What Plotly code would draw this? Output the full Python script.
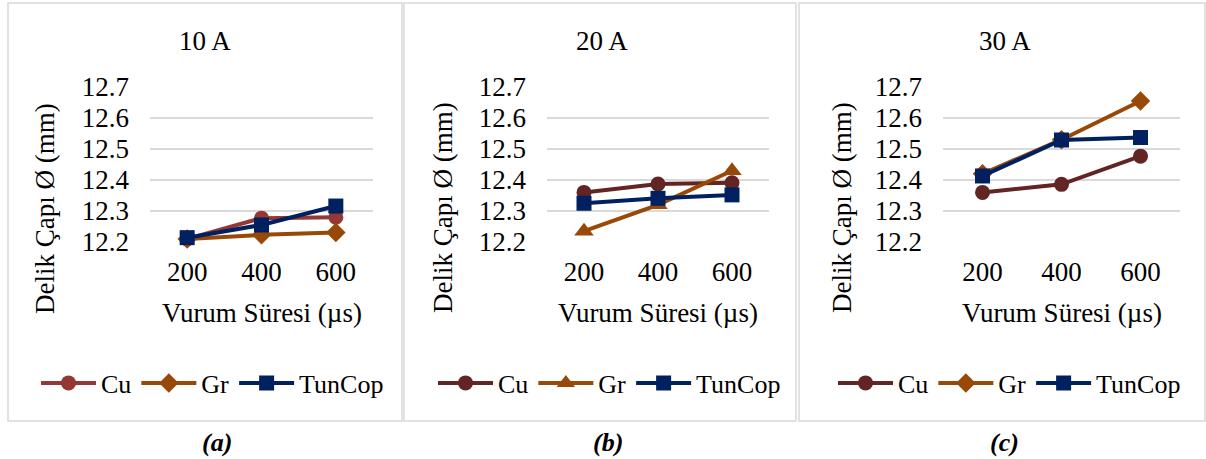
import plotly.graph_objects as go

W, H = 1206, 459

pulse = ["200", "400", "600"]
panels = ["10 A", "20 A", "30 A"]
captions = ["(a)", "(b)", "(c)"]
y_ticks = [12.2, 12.3, 12.4, 12.5, 12.6, 12.7]

# values (mm)
cu_10 = [12.21, 12.277, 12.28]
gr_10 = [12.21, 12.223, 12.231]
tc_10 = [12.214, 12.255, 12.316]

cu_20 = [12.36, 12.387, 12.391]
gr_20 = [12.235, 12.32, 12.43]
tc_20 = [12.325, 12.341, 12.352]

cu_30 = [12.36, 12.386, 12.477]
gr_30 = [12.42, 12.53, 12.655]
tc_30 = [12.413, 12.529, 12.537]

data = [(cu_10, gr_10, tc_10), (cu_20, gr_20, tc_20), (cu_30, gr_30, tc_30)]
cu_colors = ["#953735", "#632523", "#632523"]
gr_color = "#984807"
tc_color = "#002060"
gr_symbols = ["diamond", "triangle-up", "diamond"]
gr_sizes = [15, 17, 15]

FONT = "Liberation Serif"
FS = 27

# pixel layout helpers
plot_x = [(150, 373), (547, 769), (943, 1180)]
plot_top, plot_bot = 87, 242
boxes = [(8, 402), (404, 796), (799, 1205)]
title_x = [205, 602, 1005]
ytitle_x = [45, 443, 842]
xtitle_x = [262, 658, 1062]
legend_x = [36, 433, 833]
caption_x = [217, 608, 1004]

def px(x):
    return x / W

def py(y):
    return 1 - y / H

fig = go.Figure()
for i in range(3):
    cu, gr, tc = data[i]
    xa = "x" if i == 0 else f"x{i+1}"
    ya = "y" if i == 0 else f"y{i+1}"
    lg = "legend" if i == 0 else f"legend{i+1}"
    fig.add_trace(go.Scatter(x=pulse, y=cu, name="Cu", mode="lines+markers",
                             line=dict(color=cu_colors[i], width=4),
                             marker=dict(symbol="circle", size=15, color=cu_colors[i]),
                             xaxis=xa, yaxis=ya, legend=lg, cliponaxis=False))
    fig.add_trace(go.Scatter(x=pulse, y=gr, name="Gr", mode="lines+markers",
                             line=dict(color=gr_color, width=4),
                             marker=dict(symbol=gr_symbols[i], size=gr_sizes[i], color=gr_color),
                             xaxis=xa, yaxis=ya, legend=lg, cliponaxis=False))
    fig.add_trace(go.Scatter(x=pulse, y=tc, name="TunCop", mode="lines+markers",
                             line=dict(color=tc_color, width=4),
                             marker=dict(symbol="square", size=15, color=tc_color),
                             xaxis=xa, yaxis=ya, legend=lg, cliponaxis=False))

layout = dict(
    width=W, height=H,
    margin=dict(l=0, r=0, t=0, b=0, autoexpand=False),
    paper_bgcolor="white", plot_bgcolor="white",
    font=dict(family=FONT, size=FS, color="black"),
    showlegend=True,
)

for i in range(3):
    sfx = "" if i == 0 else str(i + 1)
    x0, x1 = plot_x[i]
    layout["xaxis" + sfx] = dict(
        domain=[px(x0), px(x1)], anchor="y" + sfx, type="category",
        range=[-0.5, 2.5], showgrid=False, showline=False, zeroline=False,
        ticks="", tickfont=dict(family=FONT, size=FS), ticklabelstandoff=11,
        automargin=False,
    )
    layout["yaxis" + sfx] = dict(
        domain=[py(plot_bot), py(plot_top)], anchor="x" + sfx,
        range=[12.2, 12.7], tickvals=y_ticks, tickformat=".1f",
        showgrid=True, gridcolor="#d9d9d9", gridwidth=1.5, zeroline=False,
        showline=False, ticks="", tickfont=dict(family=FONT, size=FS),
        ticklabelstandoff=20, automargin=False,
    )
    layout["legend" if i == 0 else f"legend{i+1}"] = dict(
        x=px(legend_x[i]), y=py(383), xanchor="left", yanchor="middle",
        orientation="h", font=dict(family=FONT, size=26), bgcolor="rgba(0,0,0,0)",
        itemwidth=55, tracegroupgap=0,
    )

fig.update_layout(**layout)

shapes = []
annotations = []
for i in range(3):
    b0, b1 = boxes[i]
    shapes.append(dict(type="rect", xref="paper", yref="paper",
                       x0=px(b0), x1=px(b1), y0=py(421), y1=py(3),
                       line=dict(color="#d9d9d9", width=1.5), fillcolor="rgba(0,0,0,0)"))
    annotations.append(dict(text=panels[i], x=px(title_x[i]), y=py(41), xref="paper", yref="paper",
                            showarrow=False, font=dict(family=FONT, size=FS), xanchor="center", yanchor="middle"))
    annotations.append(dict(text="Delik Çapı Ø (mm)", x=px(ytitle_x[i]), y=py(208), xref="paper", yref="paper",
                            showarrow=False, textangle=-90, font=dict(family=FONT, size=FS),
                            xanchor="center", yanchor="middle"))
    annotations.append(dict(text="Vurum Süresi (µs)", x=px(xtitle_x[i]), y=py(313), xref="paper", yref="paper",
                            showarrow=False, font=dict(family=FONT, size=FS), xanchor="center", yanchor="middle"))
    annotations.append(dict(text="<b><i>" + captions[i] + "</i></b>", x=px(caption_x[i]), y=py(442),
                            xref="paper", yref="paper", showarrow=False,
                            font=dict(family=FONT, size=26), xanchor="center", yanchor="middle"))

fig.update_layout(shapes=shapes, annotations=annotations)
fig.write_html("out.html", config={"displayModeBar": False},
               post_script="document.body.style.margin='0';document.body.style.overflow='hidden';")
